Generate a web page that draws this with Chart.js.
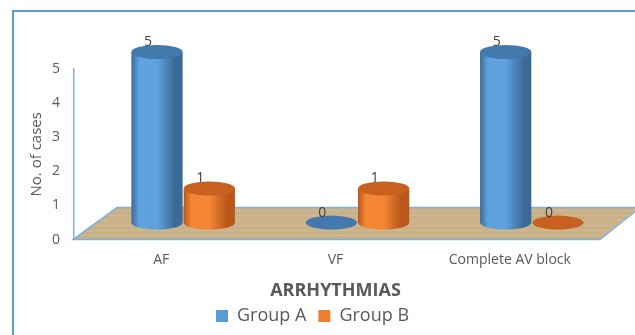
<!DOCTYPE html>
<html>
<head>
<meta charset="utf-8">
<script src="https://cdn.jsdelivr.net/npm/chart.js@4"></script>
<style>
  html, body { margin: 0; padding: 0; background: #fff; }
  #wrap { width: 635px; height: 335px; position: relative; }
</style>
</head>
<body>
<div id="wrap"><canvas id="arrChart" width="635" height="335"></canvas></div>
<script>
const categories = ['AF', 'VF', 'Complete AV block'];
const groupA = [5, 0, 5];
const groupB = [1, 1, 0];
const yTicks = [0, 1, 2, 3, 4, 5];

const textGrey = '#595959';
const depthX = 22, depthY = 17; // bars sit mid-depth on the floor

const shades = {
    blue: { edge: '#3a6a98', mid: '#5ea2de', top: '#4479ad' },
    orange: { edge: '#b9561a', mid: '#f48634', top: '#c8611f' }
};

function drawCylinder(ctx, cx, topY, baseY, rx, ry, s) {
    if (baseY - topY < 1) {
        ctx.fillStyle = s.top;
        ctx.beginPath();
        ctx.ellipse(cx, baseY, rx, ry, 0, 0, Math.PI * 2);
        ctx.fill();
        return;
    }
    const g = ctx.createLinearGradient(cx - rx, 0, cx + rx, 0);
    g.addColorStop(0, s.edge);
    g.addColorStop(0.15, s.mid);
    g.addColorStop(0.5, s.mid);
    g.addColorStop(0.85, s.edge);
    g.addColorStop(1, s.edge);
    ctx.fillStyle = g;
    ctx.beginPath();
    ctx.moveTo(cx - rx, topY);
    ctx.lineTo(cx - rx, baseY);
    ctx.ellipse(cx, baseY, rx, ry, 0, Math.PI, 0, true);
    ctx.lineTo(cx + rx, topY);
    ctx.closePath();
    ctx.fill();
    ctx.fillStyle = s.top;
    ctx.beginPath();
    ctx.ellipse(cx, topY, rx, ry, 0, 0, Math.PI * 2);
    ctx.fill();
}

const framePlugin = {
    id: 'frame',
    afterLayout(chart) {
        // pull the legend up a bit, closer to the axis title
        chart.legend.top -= 7;
        chart.legend.bottom -= 7;
    },
    beforeDraw(chart) {
        const ctx = chart.ctx;
        ctx.save();
        ctx.strokeStyle = '#5b9bd5';
        ctx.lineWidth = 2;
        ctx.strokeRect(13, 11, 640, 340);
        ctx.restore();
    }
};

const cylinderPlugin = {
    id: 'cylinders',
    beforeDatasetsDraw(chart) {
        const ctx = chart.ctx;
        const a = chart.chartArea;
        ctx.save();
        // floor
        ctx.fillStyle = '#c9b188';
        ctx.strokeStyle = '#7fb0e0';
        ctx.lineWidth = 1.5;
        ctx.beginPath();
        ctx.moveTo(a.left - 1, a.bottom);
        ctx.lineTo(a.right + 3, a.bottom);
        ctx.lineTo(a.right + 3 + 40, a.bottom - 32);
        ctx.lineTo(a.left + 43, a.bottom - 32);
        ctx.closePath();
        ctx.fill();
        ctx.stroke();
        // faint grain
        ctx.strokeStyle = 'rgba(255,255,255,0.12)';
        ctx.lineWidth = 1;
        for (let k = 4; k < 32; k += 5) {
            ctx.beginPath();
            ctx.moveTo(a.left + k * 1.35, a.bottom - k);
            ctx.lineTo(a.right + 3 + k * 1.25, a.bottom - k);
            ctx.stroke();
        }

        const metas = [chart.getDatasetMeta(0), chart.getDatasetMeta(1)];
        const keys = ['blue', 'orange'];
        for (let i = 0; i < categories.length; i++) {
            metas.forEach((meta, d) => {
                const el = meta.data[i];
                drawCylinder(ctx, el.x + depthX, el.y - depthY, el.base - depthY,
                    el.width / 2, 7, shades[keys[d]]);
            });
        }
        // value labels
        ctx.fillStyle = '#404040';
        ctx.font = '14px "Open Sans", sans-serif';
        ctx.textAlign = 'center';
        ctx.textBaseline = 'middle';
        metas.forEach((meta, d) => {
            meta.data.forEach((el, i) => {
                const v = chart.data.datasets[d].data[i];
                ctx.fillText(String(v), el.x + depthX - 9, el.y - depthY - 10);
            });
        });
        ctx.restore();
        return false;
    }
};

const ctx = document.getElementById('arrChart').getContext('2d');
new Chart(ctx, {
    type: 'bar',
    data: {
        labels: categories,
        datasets: [
            { label: 'Group A', data: groupA, backgroundColor: '#5b9bd5' },
            { label: 'Group B', data: groupB, backgroundColor: '#ed7d31' }
        ]
    },
    options: {
        responsive: false,
        animation: false,
        categoryPercentage: 0.6,
        barPercentage: 0.98,
        layout: { padding: { left: 28, right: 38, top: 69, bottom: -7 } },
        plugins: {
            tooltip: { enabled: false },
            legend: {
                position: 'bottom',
                labels: {
                    color: textGrey,
                    boxWidth: 12,
                    boxHeight: 12,
                    padding: 12,
                    font: { family: '"Open Sans", sans-serif', size: 18 }
                }
            }
        },
        scales: {
            x: {
                grid: { display: false, drawTicks: false },
                border: { display: false },
                ticks: {
                    color: textGrey,
                    padding: 12,
                    font: { family: '"Open Sans", sans-serif', size: 14 }
                },
                title: {
                    display: true,
                    text: 'ARRHYTHMIAS',
                    color: textGrey,
                    padding: { top: 0, bottom: 0 },
                    font: { family: '"Open Sans", sans-serif', size: 18, weight: 'bold' }
                }
            },
            y: {
                min: 0,
                max: 5,
                afterBuildTicks(scale) {
                    scale.ticks = yTicks.map(v => ({ value: v }));
                },
                afterFit(scale) { scale.width = 46; },
                grid: { display: false, drawTicks: false },
                border: { display: true, color: '#7fb0e0', width: 1.5 },
                ticks: {
                    color: textGrey,
                    padding: 14,
                    font: { family: '"Open Sans", sans-serif', size: 14 }
                },
                title: {
                    display: true,
                    text: 'No. of cases',
                    color: textGrey,
                    padding: { top: 0, bottom: 4 },
                    font: { family: '"Open Sans", sans-serif', size: 15 }
                }
            }
        }
    },
    plugins: [framePlugin, cylinderPlugin]
});
</script>
</body>
</html>
